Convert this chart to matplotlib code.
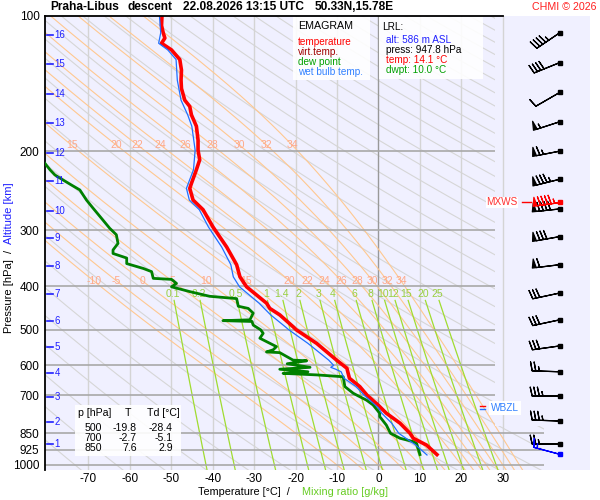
import numpy as np
import matplotlib
matplotlib.use("Agg")
import matplotlib.pyplot as plt
from matplotlib.patches import Polygon, Rectangle
from matplotlib.lines import Line2D
from matplotlib.transforms import blended_transform_factory

plt.rcParams["font.family"] = ["Liberation Sans", "DejaVu Sans"]
plt.rcParams["axes.unicode_minus"] = False

# ---- sounding data ----
temp_p = [100, 105, 109, 112, 115, 119, 125, 132, 139, 145, 154, 159, 166, 176, 189, 199,
          209, 220, 236, 242, 257, 270, 295, 327, 358, 381, 401, 436, 448, 463, 492, 500,
          536, 584, 609, 620, 641, 669, 700, 735, 767, 807, 850, 872, 903, 948]
temp_t = [-52.2, -52.3, -51.9, -51.5, -52.3, -49.9, -47.9, -47.5, -47.6, -47.5, -46.7, -45.5,
          -45.1, -43.9, -43.5, -43.5, -43.1, -43.9, -45.1, -45.5, -44.7, -42.3, -39.9, -36.6,
          -34.2, -33.4, -31.8, -27.0, -26.2, -23.8, -20.6, -19.8, -14.9, -10.1, -7.6, -7.4,
          -7.0, -4.5, -2.7, -0.1, 1.9, 5.2, 7.6, 8.4, 11.6, 14.1]

wetb_p = [100, 109, 115, 119, 125, 139, 154, 166, 176, 199, 220, 242, 257, 270, 295, 327,
          358, 381, 401, 436, 463, 492, 500, 536, 584, 600, 606, 612, 620, 641, 669, 700,
          746, 767, 807, 850, 903, 950]
wetb_t = [-52.8, -52.5, -53.0, -50.8, -48.8, -48.5, -47.6, -46.0, -45.0, -44.2, -44.6, -46.3,
          -45.6, -43.2, -41.0, -37.8, -35.6, -35.0, -33.5, -28.8, -26.0, -22.5, -21.6, -17.0,
          -12.0, -10.8, -11.5, -10.3, -9.0, -8.3, -5.4, -3.4, 0.0, 0.8, 3.2, 4.9, 9.0, 11.7]

dewp_p = [213, 220, 226, 232, 238, 244, 257, 268, 285, 297, 307, 321, 332, 338, 346, 356,
          365, 371, 384, 386, 394, 401, 411, 421, 426, 443, 448, 459, 475, 477, 479, 488,
          500, 509, 522, 545, 554, 560, 562, 584, 586, 595, 606, 612, 620, 625, 630, 636,
          669, 692, 700, 717, 735, 767, 780, 815, 850, 872, 887, 895, 948]
dewp_t = [-80.4, -79.2, -78.0, -76.0, -74.0, -72.0, -70.4, -68.8, -66.4, -64.8, -63.2, -62.8,
          -64.0, -64.0, -60.7, -60.7, -56.7, -54.7, -54.3, -49.9, -48.7, -49.9, -45.5, -40.7,
          -34.2, -33.8, -31.4, -30.2, -31.0, -37.5, -30.5, -30.2, -28.4, -27.8, -28.6, -24.6,
          -25.4, -27.0, -23.8, -20.6, -17.3, -22.0, -16.5, -23.8, -17.0, -23.0, -14.9, -8.5,
          -8.1, -6.1, -5.1, -2.9, -1.3, 0.3, 0.3, 1.9, 2.9, 5.2, 8.4, 9.2, 10.0]

alt_km = [1, 2, 3, 4, 5, 6, 7, 8, 9, 10, 11, 12, 13, 14, 15, 16]
alt_p = [898, 802, 706, 624, 546, 478, 416, 360, 312, 272, 233, 202, 173, 149, 128, 110]

wind_p = [898, 798, 702, 620, 543, 475, 414, 358, 310, 269, 231, 200, 172, 148, 127, 109]
wind_dir = [270, 272, 270, 272, 262, 258, 258, 263, 260, 264, 256, 259, 252, 240, 248, 236]
wind_spd = [25, 35, 35, 25, 30, 30, 30, 60, 80, 90, 85, 65, 55, 10, 40, 45]
mxws_p, mxws_dir, mxws_spd = 260, 262, 95
sfc_p, sfc_dir, sfc_spd = 945, 285, 15
wbzl_p = 746

press_ticks = [100, 200, 300, 400, 500, 600, 700, 850, 925, 1000]
temp_ticks = [-70, -60, -50, -40, -30, -20, -10, 0, 10, 20, 30]
theta_w = [-10, -5, 0, 5, 10, 15, 20, 22, 24, 26, 28, 30, 32, 34]
mix_ratios = [0.1, 0.2, 0.5, 1, 1.4, 2, 3, 4, 6, 8, 10, 12, 15, 20, 25]

table_p = ["500", "700", "850"]
table_t = ["-19.8", "-2.7", "7.6"]
table_td = ["-28.4", "-5.1", "2.9"]

W, H = 600, 500
def fx(x):
    return x / W
def fy(y):
    return 1 - y / H

fig = plt.figure(figsize=(6, 5), dpi=100)
ax = fig.add_axes([fx(45), fy(470), 545 / W, 454 / H])
ax.set_facecolor("#f0f0ff")
ax.set_yscale("log")
ax.set_xlim(-80.4, 51.0)
ax.set_ylim(1026, 100)

clip = Polygon([(-81, 99), (28, 99), (28, 820), (40, 820), (40, 1030), (-81, 1030)],
               closed=True, transform=ax.transData, visible=False)
ax.add_patch(clip)

# dry adiabats
pg = np.geomspace(1030, 100, 200)
for theta in np.arange(190, 620, 10):
    ln, = ax.plot(theta * (pg / 1000) ** 0.286 - 273.15, pg, color="#d6d6d6", lw=0.8, zorder=1)
    ln.set_clip_path(clip)

# moist adiabats
def dtdlnp(p, T):
    e = 6.112 * np.exp(17.67 * (T - 273.15) / (T - 29.65))
    rs = 0.622 * e / (p - e)
    return (287.04 * T + 2.501e6 * rs) / (1005.7 + 2.501e6 ** 2 * rs * 0.622 / (287.04 * T * T))

def integrate(t0, lnp):
    out = [t0]
    for i in range(len(lnp) - 1):
        h = lnp[i + 1] - lnp[i]
        T, lp = out[-1], lnp[i]
        k1 = dtdlnp(np.exp(lp), T)
        k2 = dtdlnp(np.exp(lp + h / 2), T + h * k1 / 2)
        k3 = dtdlnp(np.exp(lp + h / 2), T + h * k2 / 2)
        k4 = dtdlnp(np.exp(lp + h), T + h * k3)
        out.append(T + h * (k1 + 2 * k2 + 2 * k3 + k4) / 6)
    return np.array(out)

lnp_up = np.linspace(np.log(1000), np.log(100), 250)
lnp_dn = np.linspace(np.log(1000), np.log(1030), 5)
for tw in theta_w:
    t_up = integrate(tw + 273.15, lnp_up)
    t_dn = integrate(tw + 273.15, lnp_dn)
    lnp = np.concatenate([lnp_dn[::-1], lnp_up[1:]])
    tt = np.concatenate([t_dn[::-1], t_up[1:]]) - 273.15
    ln, = ax.plot(tt, np.exp(lnp), color="#ffc890", lw=0.8, zorder=1.5)
    ln.set_clip_path(clip)
    for pl in (389, 194):
        tl = np.interp(np.log(pl), lnp[::-1], tt[::-1])
        if -78 < tl < 27:
            ax.text(tl, pl, str(tw), color="#ffa888", fontsize=7.5, ha="center", va="center", zorder=2)

# mixing ratio lines
pm = np.geomspace(1030, 430, 60)
for w in mix_ratios:
    a = np.log(w * pm / (622 + w) / 6.112)
    td = 243.5 * a / (17.67 - a)
    ln, = ax.plot(td, pm, color="#a0dc30", lw=0.9, zorder=1.6)
    ln.set_clip_path(clip)
    a0 = np.log(w * 415 / (622 + w) / 6.112)
    ax.text(243.5 * a0 / (17.67 - a0), 415, f"{w:g}", color="#99d040", fontsize=7.5,
            ha="center", va="center", zorder=2)

# isotherms and isobars
for t in temp_ticks:
    ax.axvline(t, color="#999999" if t == 0 else "#d4d4d4", lw=1.0, zorder=1.2)
for p in press_ticks[1:]:
    ln, = ax.plot([-81, 40], [p, p], color="#a8a8a8", lw=1.2, zorder=1.7)
    ln.set_clip_path(clip)

# profiles
ax.plot(dewp_t, dewp_p, color="#008000", lw=2.0, zorder=5)
ax.plot(temp_t, temp_p, color="#ff0000", lw=2.6, zorder=6)
ax.plot(wetb_t, wetb_p, color="#2070ff", lw=0.9, zorder=7)

# altitude marks
tr = blended_transform_factory(ax.transAxes, ax.transData)
for km, p in zip(alt_km, alt_p):
    ax.plot([0.004, 0.014], [p, p], color="#2020ff", lw=1.2, transform=tr, zorder=8)
    ax.text(0.018, p, str(km), color="#2020ff", fontsize=7, va="center", ha="left", transform=tr, zorder=8)

# wind barbs
xb = 43.7
bsz = dict(height=0.32, spacing=0.13, width=0.14)
wd = np.radians(wind_dir)
ax.barbs(np.full(len(wind_p), xb), wind_p, -np.array(wind_spd) * np.sin(wd), -np.array(wind_spd) * np.cos(wd),
         length=6.3, sizes=bsz, lw=0.9, color="black", clip_on=False, zorder=8)
ax.plot(np.full(len(wind_p), xb), wind_p, "s", ms=2.2, color="black", clip_on=False, zorder=8)
md = np.radians(mxws_dir)
ax.barbs([xb], [mxws_p], [-mxws_spd * np.sin(md)], [-mxws_spd * np.cos(md)], length=6.3, sizes=bsz,
         lw=0.9, color="#ff0000", clip_on=False, zorder=9)
ax.plot([xb], [mxws_p], "s", ms=2.2, color="#ff0000", zorder=9)
sd = np.radians(sfc_dir)
ax.barbs([xb], [sfc_p], [-sfc_spd * np.sin(sd)], [-sfc_spd * np.cos(sd)], length=6.3, sizes=bsz,
         lw=0.9, color="#0000ff", clip_on=False, zorder=9)
ax.plot([xb], [sfc_p], "s", ms=2.2, color="#0000ff", zorder=9)

ax.text(29.8, mxws_p, "MXWS", color="#ff3030", fontsize=7.2, ha="center", va="center", zorder=9,
        bbox=dict(facecolor="white", edgecolor="none", pad=0.5))
ax.plot([34.5, 36.8], [mxws_p, mxws_p], color="#ff0000", lw=1, zorder=9)
ax.text(30.5, wbzl_p, "WBZL", color="#3080ff", fontsize=7.2, ha="center", va="center", zorder=9,
        bbox=dict(facecolor="white", edgecolor="none", pad=1.5))
ax.plot([24.5, 25.8], [wbzl_p * 0.992, wbzl_p * 0.992], color="#ff0000", lw=1, zorder=10)
ax.plot([24.5, 25.8], [wbzl_p * 1.004, wbzl_p * 1.004], color="#2070ff", lw=1, zorder=10)

# axes cosmetics
for s in ["right", "bottom", "top"]:
    ax.spines[s].set_visible(False)
ax.spines["left"].set_linewidth(1.3)
ax.plot([-80.4, 30], [100, 100], color="black", lw=1.3, clip_on=False, zorder=10)
ax.set_yticks(press_ticks)
ax.set_yticklabels([str(p) for p in press_ticks])
ax.yaxis.set_minor_locator(matplotlib.ticker.NullLocator())
ax.set_xticks(temp_ticks)
ax.tick_params(axis="both", length=0, labelsize=8.5)
ax.tick_params(axis="y", pad=4)
ax.tick_params(axis="x", pad=2)

# title
fig.text(fx(50), fy(7), "Praha-Libus", fontsize=8.6, fontweight="bold", va="center")
fig.text(fx(128), fy(7), "descent", fontsize=8.6, fontweight="bold", va="center")
fig.text(fx(183), fy(7), "22.08.2026 13:15 UTC", fontsize=8.6, fontweight="bold", va="center")
fig.text(fx(315), fy(7), "50.33N,15.78E", fontsize=8.6, fontweight="bold", va="center")
fig.text(fx(596), fy(7), "CHMI \u00a9 2026", fontsize=7.7, color="#ff2020", ha="right", va="center")

# axis labels
fig.text(fx(9), fy(296), "Pressure [hPa]", rotation=90, fontsize=8, ha="center", va="center")
fig.text(fx(9), fy(251), "/", rotation=90, fontsize=8, ha="center", va="center")
fig.text(fx(9), fy(213), "Altitude [km]", rotation=90, fontsize=8, color="#2020ff", ha="center", va="center")
fig.text(fx(198), fy(492), "Temperature [\u00b0C]  /", fontsize=7.8, va="center")
fig.text(fx(302), fy(492), "Mixing ratio [g/kg]", fontsize=7.8, color="#66cc22", va="center")

# legend boxes
def box(x0, y0, x1, y1):
    fig.add_artist(Rectangle((fx(x0), fy(y1)), (x1 - x0) / W, (y1 - y0) / H, transform=fig.transFigure,
                             facecolor="white", edgecolor="none", alpha=0.9, zorder=2))

box(293, 17, 370, 80)
fig.text(fx(298), fy(26), "EMAGRAM", fontsize=7.7, va="center", zorder=3)
for yy, lab, col in [(42, "temperature", "#ff0000"), (52, "virt.temp.", "#a00000"),
                     (62, "dew point", "#00a000"), (72, "wet bulb temp.", "#3080ff")]:
    fig.text(fx(298), fy(yy), lab, fontsize=7.2, color=col, va="center", zorder=3)

box(379, 17, 483, 79)
fig.text(fx(382), fy(27), "LRL:", fontsize=7.2, va="center", zorder=3)
for yy, lab, col in [(40, "alt: 586 m ASL", "#2020ff"), (50, "press: 947.8 hPa", "black"),
                     (60, "temp: 14.1 \u00b0C", "#ff0000"), (70, "dwpt: 10.0 \u00b0C", "#00a000")]:
    fig.text(fx(386), fy(yy), lab, fontsize=7.2, color=col, va="center", zorder=3)

box(75, 405, 181, 456)
fig.text(fx(78), fy(413), "p [hPa]", fontsize=7.6, va="center", zorder=3)
fig.text(fx(127.5), fy(413), "T", fontsize=7.6, va="center", ha="center", zorder=3)
fig.text(fx(147), fy(413), "Td [\u00b0C]", fontsize=7.6, va="center", zorder=3)
for i, yy in enumerate([428, 438, 448]):
    fig.text(fx(102), fy(yy), table_p[i], fontsize=7.6, va="center", ha="right", zorder=3)
    fig.text(fx(137), fy(yy), table_t[i], fontsize=7.6, va="center", ha="right", zorder=3)
    fig.text(fx(173), fy(yy), table_td[i], fontsize=7.6, va="center", ha="right", zorder=3)

fig.savefig("out.png", dpi=100, facecolor="white")
